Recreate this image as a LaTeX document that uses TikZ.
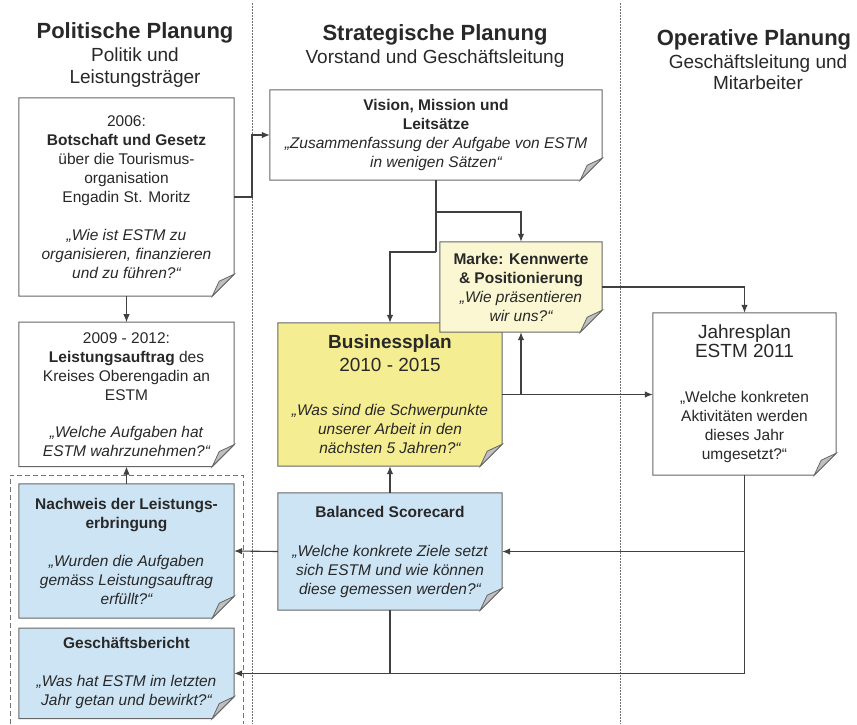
\documentclass[tikz,border=0pt]{standalone}
\usepackage{fontspec}
\setmainfont{Liberation Sans}
\usetikzlibrary{arrows.meta,backgrounds,calc}
\definecolor{bpyellow}{RGB}{245,237,145}
\definecolor{mkyellow}{RGB}{250,247,210}
\definecolor{scblue}{RGB}{205,228,244}
\definecolor{txt}{RGB}{40,40,40}
\tikzstyle{note} = [align=center, inner sep=0pt, text=txt,
    font=\fontsize{15.5}{19}\selectfont]
\tikzstyle{head} = [anchor=base, text=txt, font=\bfseries\fontsize{22}{26}\selectfont]
\tikzstyle{sub} = [anchor=base, text=txt, font=\fontsize{19}{23}\selectfont]
\tikzstyle{box} = [draw=black!60, line width=1pt]
\tikzstyle{fold} = [draw=black!60, fill=black!25, line width=0.8pt]
\tikzstyle{line} = [draw=black!75, line width=1.1pt]
\tikzstyle{arr} = [line, -{Latex[length=8pt,width=6.5pt]}]
\tikzstyle{sep} = [draw=black!55, line width=0.9pt, dash pattern=on 1.5pt off 1.5pt]
\tikzstyle{grp} = [draw=black!55, line width=0.9pt, dash pattern=on 5pt off 3pt]
\newcommand{\bt}[1]{{\bfseries #1}}
\newcommand{\qt}[1]{{\itshape #1}}
\newcommand{\grt}[1]{{\fontsize{19}{23}\selectfont #1}}

\begin{document}
\begin{tikzpicture}[x=1pt, y=-1pt]
    \useasboundingbox (0,0) rectangle (857,724);
    \node (polt) [head] at (135,38) {Politische Planung};
    \node (pols1) [sub] at (135,61) {Politik und};
    \node (pols2) [sub] at (135,83) {Leistungsträger};
    \node (strt) [head] at (435,40) {Strategische Planung};
    \node (strs) [sub] at (435,63) {Vorstand und Geschäftsleitung};
    \node (opt) [head] at (754,45) {Operative Planung};
    \node (ops1) [sub] at (758,68) {Geschäftsleitung und};
    \node (ops2) [sub] at (758,89) {Mitarbeiter};
    \coordinate (l1) at (252,3);
    \coordinate (l2) at (620,3);
    \draw [sep] (l1) -- (252,724);
    \draw [sep] (l2) -- (620,724);
    \draw [grp] (10,724) |- (243,475) -- (243,724);

    \node (bot) [note, minimum width=215pt, minimum height=198pt] at (126.5,197)
        {2006:\\\bt{Botschaft und Gesetz}\\über die Tourismus-\\organisation\\Engadin St. Moritz\\[19pt]\qt{„Wie ist ESTM zu}\\\qt{organisieren, finanzieren}\\\qt{und zu führen?“}};
    \path (bot.south)+(0,26) node (auf) [note, anchor=north, minimum width=215pt, minimum height=144pt]
        {2009 - 2012:\\\bt{Leistungsauftrag} des\\Kreises Oberengadin an\\ESTM\\[18pt]\qt{„Welche Aufgaben hat}\\\qt{ESTM wahrzunehmen?“}};
    \node (vis) [note, minimum width=332pt, minimum height=90pt] at (436,135)
        {\bt{Vision, Mission und}\\\bt{Leitsätze}\\\qt{„Zusammenfassung der Aufgabe von ESTM}\\\qt{in wenigen Sätzen“}};
    \node (bp) [note, minimum width=224pt, minimum height=143pt] at (390,394.5)
        {\grt{\bfseries Businessplan}\\[4pt]\grt{2010 - 2015}\\[25pt]\qt{„Was sind die Schwerpunkte}\\\qt{unserer Arbeit in den}\\\qt{nächsten 5 Jahren?“}};
    \node (mar) [note, minimum width=162pt, minimum height=90pt] at (521,287)
        {\bt{Marke: Kennwerte}\\\bt{\& Positionierung}\\\qt{„Wie präsentieren}\\\qt{wir uns?“}};
    \node (jp) [note, minimum width=183pt, minimum height=162pt] at (744.5,394)
        {\grt{Jahresplan}\\\grt{ESTM 2011}\\[26pt]„Welche konkreten\\Aktivitäten werden\\dieses Jahr\\umgesetzt?“};
    \node (bsc) [note, minimum width=224pt, minimum height=117pt] at (390,551.5)
        {\bt{Balanced Scorecard}\\[20pt]\qt{„Welche konkrete Ziele setzt}\\\qt{sich ESTM und wie können}\\\qt{diese gemessen werden?“}};
    \node (nw) [note, minimum width=215pt, minimum height=134pt] at (126.5,551)
        {\bt{Nachweis der Leistungs-}\\\bt{erbringung}\\[19pt]\qt{„Wurden die Aufgaben}\\\qt{gemäss Leistungsauftrag}\\\qt{erfüllt?“}};
    \path (nw.south)+(0,10) node (gb) [note, anchor=north, minimum width=215pt, minimum height=90pt]
        {\bt{Geschäftsbericht}\\[19pt]\qt{„Was hat ESTM im letzten}\\\qt{Jahr getan und bewirkt?“}};

    \begin{scope}[on background layer]
        \foreach \n/\c in {bot/white, auf/white, vis/white, bp/bpyellow, mar/mkyellow,
                jp/white, bsc/scblue, nw/scblue, gb/scblue} {
            \filldraw [box, fill=\c] (\n.north west) -- (\n.north east) -- ([yshift=22pt]\n.south east)
                -- ([xshift=-22pt]\n.south east) -- (\n.south west) -- cycle;
            \filldraw [fold] ([yshift=22pt]\n.south east) -- ([xshift=-15pt,yshift=15pt]\n.south east)
                -- ([xshift=-22pt]\n.south east) -- cycle;
        }
    \end{scope}

    \coordinate (j1) at (436,252);
    \coordinate (j2) at (436,212);
    \draw [arr] (bot.south) -- (auf.north);
    \draw [arr] (bot.east) -- (bot.east -| l1) |- (vis.west);
    \draw [line] (vis.south) -- (j1);
    \draw [arr] (j1) -| (bp.north);
    \draw [arr] (j2) -| (mar.north);
    \draw [arr] (bp.east) -- (bp.east -| jp.west);
    \draw [arr] (bp.east -| mar.south) -- (mar.south);
    \draw [arr] (mar.east) -| (jp.north);
    \draw [arr] (jp.south) |- (gb.east);
    \draw [arr] (jp.south |- bsc.east) -- (bsc.east);
    \draw [arr] (bsc.north) -- (bp.south);
    \draw [line] (bsc.south) -- (bsc.south |- gb.east);
    \draw [arr] (bsc.west) -- (nw.east);
    \draw [arr] (nw.north) -- (auf.south);
\end{tikzpicture}
\end{document}
